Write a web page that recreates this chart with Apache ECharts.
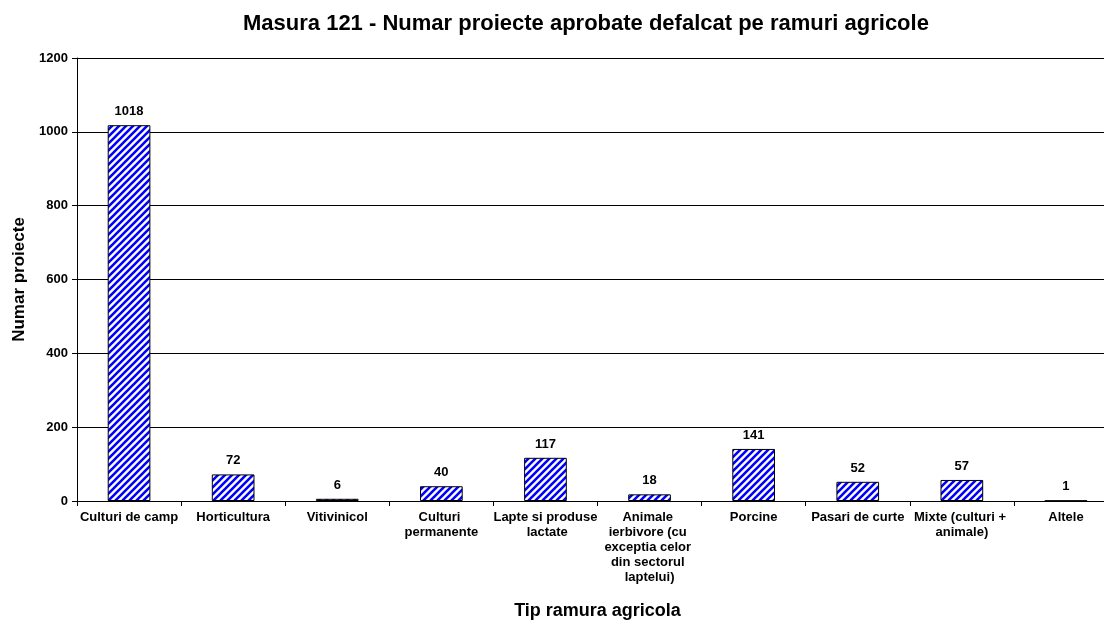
<!DOCTYPE html>
<html>
<head>
<meta charset="utf-8">
<script src="https://cdn.jsdelivr.net/npm/echarts@6/dist/echarts.min.js"></script>
<style>
  html, body { margin: 0; padding: 0; background: #fff; }
  #chart { width: 1104px; height: 620px; }
</style>
</head>
<body>
<div id="chart"></div>
<script>
var categories = [
  'Culturi de camp', 'Horticultura', 'Vitivinicol', 'Culturi permanente',
  'Lapte si produse lactate', 'Animale ierbivore (cu exceptia celor din sectorul laptelui)',
  'Porcine', 'Pasari de curte', 'Mixte (culturi + animale)', 'Altele'
]
var proiecte = [1018, 72, 6, 40, 117, 18, 141, 52, 57, 1]
var yTicks = [0, 200, 400, 600, 800, 1000, 1200]

// hasura albastra pe fundal alb
function hatch () {
  var s = 7
  var c = document.createElement('canvas')
  c.width = s
  c.height = s
  var ctx = c.getContext('2d')
  ctx.fillStyle = '#fff'
  ctx.fillRect(0, 0, s, s)
  ctx.strokeStyle = '#0000ff'
  ctx.lineWidth = 2.6
  ctx.beginPath()
  ctx.moveTo(-1, s + 1); ctx.lineTo(s + 1, -1)
  ctx.moveTo(-1, 1); ctx.lineTo(1, -1)
  ctx.moveTo(s - 1, s + 1); ctx.lineTo(s + 1, s - 1)
  ctx.stroke()
  return c
}

var font = 'Liberation Sans, Arial, sans-serif'
var chart = echarts.init(document.getElementById('chart'))
chart.setOption({
  animation: false,
  backgroundColor: '#fff',
  title: {
    text: 'Masura 121 - Numar proiecte aprobate defalcat pe ramuri agricole',
    left: 238,
    top: 8,
    textStyle: { fontFamily: font, fontSize: 22, fontWeight: 'bold', color: '#000' }
  },
  grid: { left: 77, top: 58, bottom: 119, width: 1041, outerBoundsMode: 'none', containLabel: false },
  xAxis: {
    type: 'category',
    data: categories,
    name: 'Tip ramura agricola',
    nameLocation: 'middle',
    nameGap: 101,
    nameTextStyle: { fontFamily: font, fontSize: 18, fontWeight: 'bold', color: '#000' },
    axisLine: { lineStyle: { color: '#000', width: 1 } },
    axisTick: { show: true, length: 5, lineStyle: { color: '#000' } },
    axisLabel: {
      interval: 0,
      margin: 9,
      width: 106,
      overflow: 'break',
      lineHeight: 15,
      fontFamily: font,
      fontSize: 13,
      fontWeight: 'bold',
      color: '#000'
    }
  },
  yAxis: {
    type: 'value',
    min: yTicks[0],
    max: yTicks[yTicks.length - 1],
    interval: 200,
    name: 'Numar proiecte',
    nameLocation: 'middle',
    nameGap: 49,
    nameTextStyle: { fontFamily: font, fontSize: 17, fontWeight: 'bold', color: '#000' },
    axisLine: { show: true, lineStyle: { color: '#000', width: 1 } },
    axisTick: { show: true, length: 5, lineStyle: { color: '#000' } },
    axisLabel: {
      margin: 9,
      fontFamily: font,
      fontSize: 13,
      fontWeight: 'bold',
      color: '#000',
      formatter: function (v) { return String(v) }
    },
    splitLine: { lineStyle: { color: '#000', width: 1 } }
  },
  series: [{
    type: 'bar',
    data: proiecte,
    barWidth: '41%',
    itemStyle: {
      color: { image: hatch(), repeat: 'repeat' },
      borderColor: '#000',
      borderWidth: 1
    },
    label: {
      show: true,
      position: 'top',
      distance: 7,
      fontFamily: font,
      fontSize: 13,
      fontWeight: 'bold',
      color: '#000'
    }
  }]
})
</script>
</body>
</html>
